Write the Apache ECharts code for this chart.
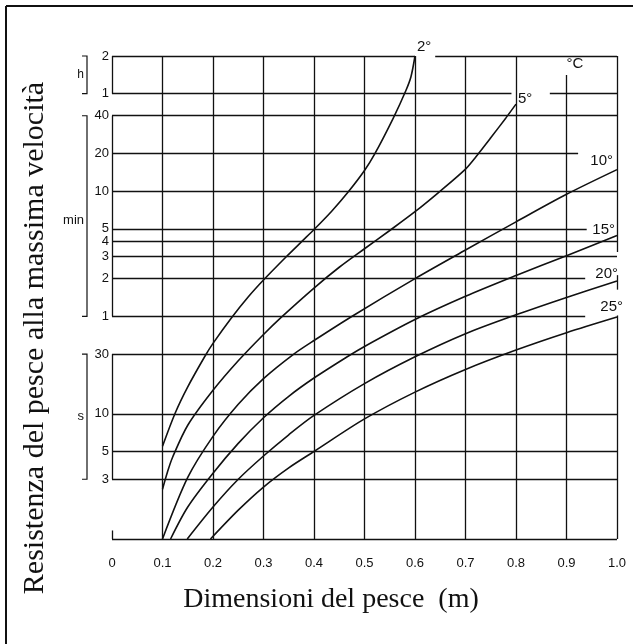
<!DOCTYPE html>
<html><head><meta charset="utf-8">
<script src="https://cdn.jsdelivr.net/npm/echarts@6/dist/echarts.min.js"></script>
<style>html,body{margin:0;padding:0;background:#fff}#c{width:633px;height:644px}</style>
</head><body><div id="c"></div>
<script>
// ---- axis ticks ----
const xTickLabels = ['0','0.1','0.2','0.3','0.4','0.5','0.6','0.7','0.8','0.9','1.0'];
// y values are in seconds (log scale)
const yTickValues = [7200,3600,2400,1200,600,300,240,180,120,60,30,10,5,3];
const yTickLabels = ['2','1','40','20','10','5','4','3','2','1','30','10','5','3'];
const unitNames = ['h','min','s'];
const unitFrom  = [3600,60,3];
const unitTo    = [7200,2400,30];

// ---- curves: fish size (m) vs endurance (s) ----
const curveNames = ['2°','5°','10°','15°','20°','25°'];
const size2  = [0.1,0.125,0.15,0.184,0.2,0.236,0.27,0.3,0.346,0.376,0.4,0.435,0.468,0.5,0.52,0.557,0.582,0.592,0.6];
const time2  = [5.5,10.1,16.4,28.8,36.5,58,86,117,181,238,296,415,593,877,1183,2300,3820,4920,7200];
const size5  = [0.1,0.11,0.12,0.15,0.2,0.25,0.3,0.335,0.4,0.45,0.5,0.55,0.6,0.65,0.7,0.72,0.75,0.78,0.8];
const time5  = [2.5,3.45,4.5,8.1,15.4,26.5,43,58.9,101,148,208,291,411,601,900,1120,1600,2307,2972];
const size10 = [0.1,0.15,0.2,0.25,0.3,0.36,0.4,0.478,0.6,0.7,0.8,0.9,1.0];
const time10 = [1,3.1,6.6,11.9,19.1,30,38.5,61,120,203,341,566,891];
const size15 = [0.116,0.15,0.2,0.25,0.3,0.35,0.4,0.465,0.5,0.6,0.7,0.8,0.9,1.0];
const time15 = [1,1.8,3.35,5.8,9.3,13.8,19.3,28.4,34.5,56.6,86.7,127,183,265];
const size20 = [0.149,0.2,0.25,0.3,0.35,0.4,0.5,0.6,0.7,0.8,0.9,1.0];
const time20 = [1,1.8,3.0,4.6,6.8,9.7,17.4,28.5,43.6,61.7,85,115];
const size25 = [0.195,0.25,0.3,0.35,0.4,0.5,0.6,0.7,0.8,0.9,1.0];
const time25 = [1,1.7,2.6,3.7,5,9.1,14.9,22.6,32.3,44.4,59.2];

// ---- grid segments (data units) ----
// horizontal: [time, fromSize, toSize]
const hGrid = [[7200,0,0.6],[7200,0.64,1],[3600,0,0.791],[3600,0.867,1],[2400,0,1],[1200,0,0.923],
  [600,0,1],[300,0,0.94],[240,0,1],[180,0,1],[120,0,0.937],[60,0,0.937],
  [30,0,1],[10,0,1],[5,0,1],[3,0,1],[1,0,1]];
// vertical: [size, fromTime, toTime]
const vGrid = [[0,3600,7200],[0,60,2400],[0,3,30],[0,1,1.17],
  [0.1,1,7200],[0.2,1,7200],[0.3,1,7200],[0.4,1,7200],[0.5,1,7200],[0.6,1,7200],[0.7,1,7200],[0.8,1,7200],
  [0.9,1,5080],[1,196,7200],[1,98,128],[1,1,61]];

const sizes = [size2,size5,size10,size15,size20,size25];
const times = [time2,time5,time10,time15,time20,time25];

const INK = '#111';
const chart = echarts.init(document.getElementById('c'), null, {renderer:'canvas'});

const gridLines = [];
hGrid.forEach(s => gridLines.push([{coord:[s[1],s[0]]},{coord:[s[2],s[0]]}]));
vGrid.forEach(s => gridLines.push([{coord:[s[0],s[1]]},{coord:[s[0],s[2]]}]));

const series = sizes.map((xs,i) => ({
  type:'line', name:curveNames[i], symbol:'none', smooth:0.3,
  lineStyle:{color:INK, width:1.6}, silent:true,
  data: xs.map((x,j)=>[x, times[i][j]])
}));
series[0].markLine = {silent:true, symbol:['none','none'], label:{show:false},
  lineStyle:{color:INK, width:1.3, type:'solid'}, emphasis:{disabled:true}, data:gridLines};

const yLabelMap = {};
yTickValues.forEach((v,i)=>{ yLabelMap[v]=yTickLabels[i]; });

chart.setOption({
  animation:false,
  backgroundColor:'#fff',
  grid:{left:112, right:16, top:56, bottom:105},
  xAxis:{type:'value', min:0, max:1, interval:0.1,
    axisLine:{show:false}, axisTick:{show:false}, splitLine:{show:false},
    axisLabel:{margin:18, fontSize:13, color:INK, fontFamily:'Liberation Sans, Arial, sans-serif',
      formatter:(v)=> xTickLabels[Math.round(v*10)]}},
  yAxis:{type:'log', logBase:10, min:1, max:7200,
    axisLine:{show:false}, axisTick:{show:false}, splitLine:{show:false},
    axisLabel:{customValues:yTickValues, margin:3, fontSize:13, color:INK,
      fontFamily:'Liberation Sans, Arial, sans-serif',
      formatter:(v)=>{ let best=null,d=1e9; yTickValues.forEach(t=>{const dd=Math.abs(Math.log(t)-Math.log(v)); if(dd<d){d=dd;best=t;}}); return yLabelMap[best]; }}},
  series: series
});

const px = (x,y)=> chart.convertToPixel({gridIndex:0},[x,y]);
const g = [];
// border (left & top)
g.push({type:'line', shape:{x1:6,y1:6,x2:6,y2:644}, style:{stroke:INK, lineWidth:2}});
g.push({type:'line', shape:{x1:6,y1:6,x2:633,y2:6}, style:{stroke:INK, lineWidth:2}});
// titles
g.push({type:'text', x:331, y:600, style:{text:'Dimensioni del pesce  (m)', font:'28px "Liberation Serif", "Times New Roman", serif', fill:INK, textAlign:'center', textVerticalAlign:'middle'}});
g.push({type:'text', x:35, y:338, rotation:Math.PI/2, style:{text:'Resistenza del pesce alla massima velocità', font:'30px "Liberation Serif", "Times New Roman", serif', fill:INK, textAlign:'center', textVerticalAlign:'middle'}});
// unit brackets
const unitFont = ['12px','13px','13px'];
unitNames.forEach((u,i)=>{
  const top = px(0,unitTo[i]); const bot = px(0,unitFrom[i]);
  const bx = top[0]-25;
  g.push({type:'polyline', shape:{points:[[bx-5,top[1]],[bx,top[1]],[bx,bot[1]],[bx-5,bot[1]]]}, style:{stroke:INK, lineWidth:1.2, fill:null}});
  const cy = (top[1]+bot[1])/2 + (u==='min'?4:0);
  g.push({type:'text', x:bx-3, y:cy, style:{text:u, font:unitFont[i]+' "Liberation Sans", Arial, sans-serif', fill:INK, textAlign:'right', textVerticalAlign:'middle'}});
});
// curve labels anchored to each curve's end
const labelOffsets = [[2,-9,'left'],[2,-5,'left'],[-4,-9,'right'],[-2,-6,'right'],[1,-7,'right'],[6,-10,'right']];
sizes.forEach((xs,i)=>{
  const e = px(xs[xs.length-1], times[i][times[i].length-1]);
  const o = labelOffsets[i];
  g.push({type:'text', x:e[0]+o[0], y:e[1]+o[1], style:{text:curveNames[i], font:'15px "Liberation Sans", Arial, sans-serif', fill:INK, textAlign:o[2], textVerticalAlign:'middle'}});
});
const cpos = px(0.9, 7200);
g.push({type:'text', x:cpos[0], y:cpos[1]+8, style:{text:'°C', font:'15px "Liberation Sans", Arial, sans-serif', fill:INK, textAlign:'left', textVerticalAlign:'middle'}});
chart.setOption({graphic:{elements:g}});
</script></body></html>
